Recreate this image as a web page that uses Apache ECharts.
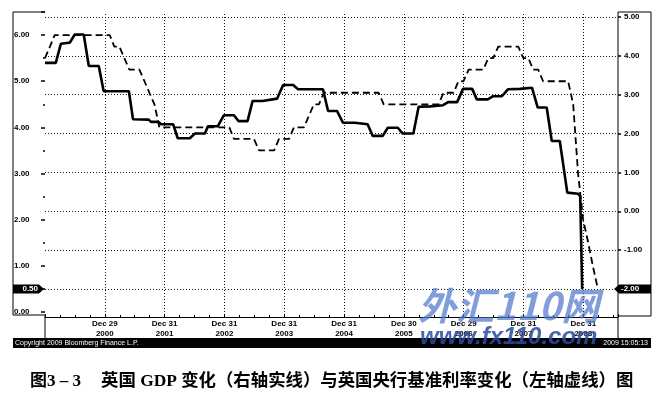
<!DOCTYPE html>
<html><head><meta charset="utf-8">
<script src="https://cdn.jsdelivr.net/npm/echarts@6/dist/echarts.min.js"></script>
<style>html,body{margin:0;padding:0;background:#fff}#c{width:662px;height:400px}</style>
</head><body><div id="c"></div>
<script>
// Bank of England base rate (left axis, dashed)
const rateDates = ['2000-01-01','2000-01-31','2000-02-29','2001-01-31','2001-02-28','2001-03-31','2001-04-30','2001-05-31','2001-07-31','2001-08-31','2001-09-30','2001-10-31','2001-11-30','2003-01-31','2003-02-28','2003-06-30','2003-07-31','2003-10-31','2003-11-30','2004-01-31','2004-02-29','2004-04-30','2004-05-31','2004-06-30','2004-07-31','2004-08-31','2005-07-31','2005-08-31','2006-07-31','2006-08-31','2006-10-31','2006-11-30','2006-12-31','2007-01-31','2007-04-30','2007-05-31','2007-06-30','2007-07-31','2007-11-30','2007-12-31','2008-01-31','2008-02-29','2008-03-31','2008-04-30','2008-09-30','2008-10-31','2008-11-30','2008-12-31','2009-01-31','2009-02-28','2009-03-31'];
const rateValues = [5.5,5.75,6.0,6.0,5.75,5.75,5.5,5.25,5.25,5.0,4.75,4.5,4.0,4.0,3.75,3.75,3.5,3.5,3.75,3.75,4.0,4.0,4.25,4.5,4.5,4.75,4.75,4.5,4.5,4.75,4.75,5.0,5.0,5.25,5.25,5.5,5.5,5.75,5.75,5.5,5.5,5.25,5.25,5.0,5.0,4.5,3.0,2.0,1.5,1.0,0.5];

// UK GDP YoY (right axis, solid)
const gdpDates = ['2000-01-01','2000-03-07','2000-04-07','2000-05-13','2000-06-01','2000-07-01','2000-08-25','2000-09-25','2000-11-25','2000-12-25','2001-05-28','2001-06-22','2001-09-25','2001-10-10','2001-11-25','2001-12-10','2002-02-22','2002-03-22','2002-06-04','2002-07-04','2002-09-04','2002-09-22','2002-11-22','2002-12-28','2003-02-28','2003-03-28','2003-05-22','2003-06-22','2003-08-22','2003-11-19','2003-12-25','2004-02-25','2004-03-25','2004-08-25','2004-09-25','2004-11-19','2004-12-25','2005-03-07','2005-05-25','2005-06-25','2005-08-25','2005-09-25','2005-11-25','2005-12-25','2006-02-28','2006-04-01','2006-06-10','2006-08-28','2006-09-28','2006-11-22','2006-12-28','2007-02-22','2007-03-22','2007-05-28','2007-06-28','2007-08-22','2007-09-28','2007-12-10','2008-02-22','2008-03-28','2008-05-22','2008-06-22','2008-08-10','2008-09-25','2008-12-01','2008-12-13','2008-12-25'];
const gdpValues = [3.82,3.82,4.31,4.33,4.34,4.55,4.55,3.74,3.74,3.09,3.09,2.37,2.36,2.30,2.30,2.24,2.24,1.88,1.88,2.00,2.00,2.19,2.19,2.47,2.47,2.32,2.32,2.84,2.84,2.90,3.25,3.25,3.14,3.14,2.58,2.58,2.28,2.28,2.24,1.94,1.94,2.15,2.15,2.00,2.00,2.69,2.70,2.73,2.81,2.81,3.15,3.15,2.88,2.88,2.96,2.96,3.14,3.15,3.18,2.67,2.67,1.81,1.81,0.48,0.45,0.39,-2.00];

// x-axis tick labels (year-end trading days)
const yearTickLabels = ['Dec 29\n2000','Dec 31\n2001','Dec 31\n2002','Dec 31\n2003','Dec 31\n2004','Dec 30\n2005','Dec 29\n2006','Dec 31\n2007','Dec 31\n2008'];

const captionNo = '图3 – 3';
const captionText = '英国 GDP 变化（右轴实线）与英国央行基准利率变化（左轴虚线）图';

function toYear(s){
  const p = s.split('-').map(Number);
  const a = Date.UTC(p[0],0,1), b = Date.UTC(p[0]+1,0,1);
  return p[0] + (Date.UTC(p[0],p[1]-1,p[2]) - a)/(b - a);
}
const rateData = rateDates.map((d,i)=>[toYear(d), rateValues[i]]);
const gdpData = gdpDates.map((d,i)=>[toYear(d), gdpValues[i]]);

const X_MIN = 2000, X_MAX = 2009.58;
const FF = '"Liberation Sans", Arial, sans-serif';
const chart = echarts.init(document.getElementById('c'));
const lbl = {fontSize:8, fontWeight:'bold', fontFamily:FF, color:'#000'};
chart.setOption({
  animation:false,
  grid:[
    {left:45,right:44,top:12,bottom:88},
    {left:45,right:44,top:17,bottom:111},
    {left:45,right:44,top:14,bottom:83}
  ],
  xAxis:[
    {gridIndex:0,type:'value',min:X_MIN,max:X_MAX,show:false},
    {gridIndex:1,type:'value',min:X_MIN,max:X_MAX,show:false},
    {gridIndex:2,type:'value',min:X_MIN,max:X_MAX,interval:1,position:'bottom',
      axisLine:{show:true,lineStyle:{color:'#000',width:1}},
      axisTick:{show:true,inside:true,length:3,lineStyle:{color:'#000'}},
      minorTick:{show:true,splitNumber:4,length:2,lineStyle:{color:'#000'}},
      splitLine:{show:true,showMinLine:false,showMaxLine:false,lineStyle:{color:'#111',type:[1,2],width:1}},
      axisLabel:Object.assign({margin:2,lineHeight:10,showMinLabel:false,showMaxLabel:false,
        formatter:function(v){const r=Math.round(v);const i=r-2001;return (Math.abs(v-r)<1e-6&&yearTickLabels[i])?yearTickLabels[i]:'';}},lbl)
    }
  ],
  yAxis:[
    {gridIndex:0,type:'value',min:0,max:6.5,interval:1,position:'left',
      axisLine:{show:false},
      axisTick:{show:true,length:4,lineStyle:{color:'#000',width:1.5}},
      minorTick:{show:true,splitNumber:2,length:2,lineStyle:{color:'#000',width:1.5}},
      splitLine:{show:false},
      axisLabel:Object.assign({margin:31,align:'left',showMaxLabel:false,
        formatter:v=>(Math.abs(v-Math.round(v))<1e-6?v.toFixed(2):'')},lbl)},
    {gridIndex:1,type:'value',min:-2,max:5,interval:1,position:'right',
      axisLine:{show:false},
      axisTick:{show:true,length:3,lineStyle:{color:'#000',width:1.5}},
      splitLine:{show:true,lineStyle:{color:'#111',type:[1,2],width:1}},
      axisLabel:Object.assign({margin:6,align:'left',formatter:v=>v.toFixed(2)},lbl)},
    {gridIndex:2,type:'value',min:0,max:1,show:false}
  ],
  series:[
    {type:'line',name:'英国央行基准利率',xAxisIndex:0,yAxisIndex:0,data:rateData,symbol:'none',clip:false,z:3,
      lineStyle:{color:'#000',width:1.8,type:[7,4]}},
    {type:'line',name:'英国GDP',xAxisIndex:1,yAxisIndex:1,data:gdpData,symbol:'none',clip:false,z:4,
      lineStyle:{color:'#000',width:2.6}}
  ]
});

const lastRate = rateValues[rateValues.length-1];
const lastGdp = gdpValues[gdpValues.length-1];
const yR = chart.convertToPixel({yAxisIndex:0}, lastRate);
const yG = chart.convertToPixel({yAxisIndex:1}, lastGdp);

chart.setOption({graphic:[
  {type:'polyline',shape:{points:[[45,338],[45,315],[13,315],[13,12],[45,12]]},style:{stroke:'#000',lineWidth:1,fill:null},z:10},
  {type:'polyline',shape:{points:[[618,338],[618,12],[651,12],[651,316],[618,316]]},style:{stroke:'#000',lineWidth:1,fill:null},z:10},
  {type:'rect',shape:{x:13,y:338,width:638,height:10},style:{fill:'#000'},z:10},
  {type:'text',x:15,y:343,style:{text:'Copyright 2009 Bloomberg Finance L.P.',fill:'#fff',fontSize:7,fontFamily:FF,verticalAlign:'middle'},z:11},
  {type:'text',x:648,y:343,style:{text:'2009 15:05:13',fill:'#fff',fontSize:7,fontFamily:FF,align:'right',verticalAlign:'middle'},z:11},
  {type:'polygon',shape:{points:[[13,yR-4.5],[39,yR-4.5],[44,yR],[39,yR+4.5],[13,yR+4.5]]},style:{fill:'#000'},z:12},
  {type:'text',x:38,y:yR,style:{text:lastRate.toFixed(2),fill:'#fff',fontSize:8,fontWeight:'bold',fontFamily:FF,align:'right',verticalAlign:'middle'},z:13},
  {type:'polygon',shape:{points:[[614,yG],[619,yG-4.5],[651,yG-4.5],[651,yG+4.5],[619,yG+4.5]]},style:{fill:'#000'},z:12},
  {type:'text',x:621,y:yG,style:{text:lastGdp.toFixed(2),fill:'#fff',fontSize:8,fontWeight:'bold',fontFamily:FF,verticalAlign:'middle'},z:13},
  {type:'text',x:30,y:382,style:{text:captionNo,fill:'#000',fontSize:17,fontWeight:'bold',fontFamily:'"Liberation Serif","Noto Sans CJK SC",serif',verticalAlign:'middle'},z:10},
  {type:'text',x:101,y:382,style:{text:captionText,fill:'#000',fontSize:17.4,fontWeight:'bold',fontFamily:'"Liberation Serif","Noto Sans CJK SC",serif',verticalAlign:'middle'},z:10},
  {type:'text',x:418,y:306,style:{text:'外汇110网',fill:'rgba(80,120,205,0.72)',fontSize:38,fontWeight:'bold',fontStyle:'italic',fontFamily:'"Noto Sans CJK SC",sans-serif',verticalAlign:'middle'},z:20},
  {type:'text',x:420,y:337,style:{text:'www.fx110.com',fill:'rgba(45,75,160,0.85)',fontSize:24,fontWeight:'bold',fontStyle:'italic',fontFamily:FF,verticalAlign:'middle'},z:20}
]});
</script></body></html>
